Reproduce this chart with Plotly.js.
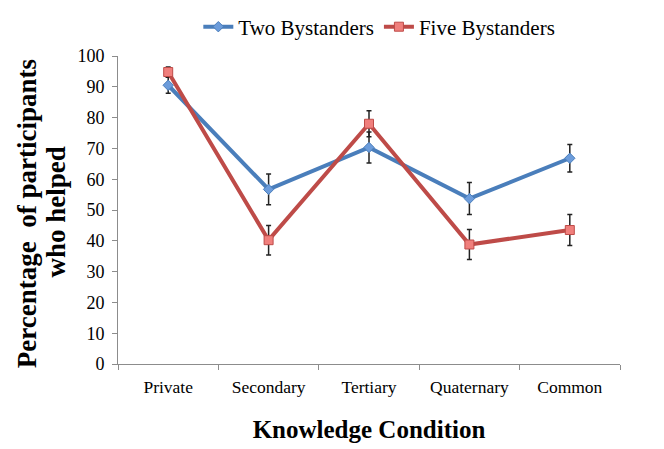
<!DOCTYPE html>
<html><head><meta charset="utf-8">
<script src="https://cdn.plot.ly/plotly-3.0.1.min.js"></script>
<style>html,body{margin:0;padding:0;background:#fff}</style>
</head><body>
<div id="chart" style="width:664px;height:449px"></div>
<script>
var categories = ["Private", "Secondary", "Tertiary", "Quaternary", "Common"];
var twoValues = [90.5, 56.7, 70.3, 53.7, 66.8];
var twoErrors = [2.6, 5.0, 5.0, 5.2, 4.5];
var fiveValues = [94.8, 40.2, 78.0, 38.8, 43.5];
var fiveErrors = [1.6, 4.8, 4.2, 4.9, 5.0];
var yTitleLines = ["Percentage  of participants", "who helped"];
var xTitle = "Knowledge Condition";

var SERIF = "Liberation Serif";

var traces = [
  {
    x: categories, y: twoValues, name: "Two Bystanders", type: "scatter", mode: "lines+markers",
    line: {color: "#4A7EBB", width: 4},
    marker: {symbol: "diamond", size: 8, color: "#6C9CDB", line: {color: "#4A7EBB", width: 1}},
    error_y: {type: "data", array: twoErrors, visible: true, color: "#222", thickness: 1.5, width: 2.5}
  },
  {
    x: categories, y: fiveValues, name: "Five Bystanders", type: "scatter", mode: "lines+markers",
    line: {color: "#BE4B48", width: 4},
    marker: {symbol: "square", size: 9, color: "#F07F7C", line: {color: "#BE4B48", width: 1}},
    error_y: {type: "data", array: fiveErrors, visible: true, color: "#222", thickness: 1.5, width: 2.5}
  }
];

var layout = {
  width: 664, height: 449,
  margin: {l: 118, r: 44, t: 56, b: 85, autoexpand: false},
  paper_bgcolor: "#fff", plot_bgcolor: "#fff",
  font: {family: SERIF, color: "#000"},
  showlegend: true,
  legend: {orientation: "h", x: 0.16, xanchor: "left", y: 1.094, yanchor: "middle",
           font: {size: 21, family: SERIF}, itemwidth: 30, traceorder: "normal"},
  xaxis: {
    type: "category", range: [-0.5, 4.5],
    showline: true, linecolor: "#8c8c8c", linewidth: 1,
    ticks: "outside", tickson: "boundaries", ticklen: 5, tickcolor: "#8c8c8c", ticklabelstandoff: 7,
    showgrid: false, zeroline: false,
    tickfont: {size: 17.5, family: SERIF},
    title: {text: xTitle, font: {size: 25, family: SERIF, weight: "bold"}, standoff: 24}
  },
  yaxis: {
    range: [0, 100], dtick: 10,
    showline: true, linecolor: "#8c8c8c", linewidth: 1,
    ticks: "outside", ticklen: 5, tickcolor: "#8c8c8c", ticklabelstandoff: 4,
    showgrid: false, zeroline: false,
    tickfont: {size: 18, family: SERIF}
  },
  annotations: [
    {text: yTitleLines[0], xref: "paper", yref: "paper", x: -0.181, y: 0.487, xanchor: "center", yanchor: "middle",
     textangle: -90, showarrow: false, font: {size: 27, family: SERIF, weight: "bold"}},
    {text: yTitleLines[1], xref: "paper", yref: "paper", x: -0.124, y: 0.494, xanchor: "center", yanchor: "middle",
     textangle: -90, showarrow: false, font: {size: 27, family: SERIF, weight: "bold"}}
  ]
};

Plotly.newPlot("chart", traces, layout, {displayModeBar: false, staticPlot: true});
</script>
</body></html>
